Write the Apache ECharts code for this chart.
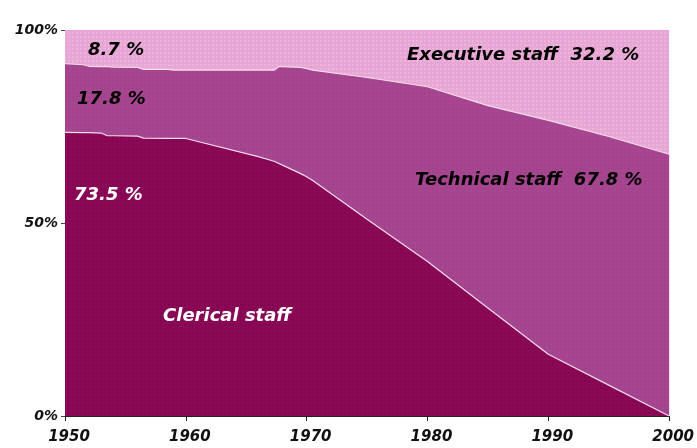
<!DOCTYPE html>
<html>
<head>
<meta charset="utf-8">
<script src="https://cdn.jsdelivr.net/npm/echarts@6/dist/echarts.min.js"></script>
<style>
  html, body { margin: 0; padding: 0; background: #ffffff; }
  #chart { width: 697px; height: 448px; }
</style>
</head>
<body>
<div id="chart"></div>
<script>
// Staff structure by category, share of total staff (%)
const years = [1950, 1951.5, 1952, 1953, 1953.5, 1954, 1956, 1956.5, 1958.5, 1959, 1960,
               1966, 1967.3, 1967.7, 1968, 1969.5, 1970, 1970.5, 1975, 1980, 1985, 1990, 1995, 2000];
const clerical = [73.5, 73.4, 73.4, 73.3, 72.6, 72.6, 72.5, 72.0, 71.9, 71.9, 71.9,
                  67.2, 66.0, 65.4, 65.0, 62.8, 62.0, 61.0, 51.0, 40.0, 28.0, 16.0, 8.0, 0.0];
const technical = [17.8, 17.6, 17.2, 17.2, 17.9, 17.8, 17.8, 17.8, 17.9, 17.7, 17.7,
                   22.4, 23.6, 25.1, 25.5, 27.5, 28.0, 28.6, 36.7, 45.3, 52.4, 60.6, 64.4, 67.8];
const executive = [8.7, 9.0, 9.4, 9.5, 9.5, 9.6, 9.7, 10.2, 10.2, 10.4, 10.4,
                   10.4, 10.4, 9.5, 9.5, 9.7, 10.0, 10.4, 12.3, 14.7, 19.6, 23.4, 27.6, 32.2];
const seriesNames = ['Clerical staff', 'Technical staff', 'Executive staff'];
const yTicks = { 0: '0%', 50: '50%', 100: '100%' };

// Cumulative bands: each layer is filled from 0 up to its running total,
// drawn back to front so the lower categories sit on top.
const cumClerical = clerical.map(v => v);
const cumTechnical = clerical.map((v, i) => +(v + technical[i]).toFixed(2));
const cumExecutive = cumTechnical.map((v, i) => +(v + executive[i]).toFixed(2));

const pairs = vals => years.map((y, i) => [y, vals[i]]);
const pct = v => v.toFixed(1) + ' %';
const last = arr => arr[arr.length - 1];

const labelFont = 'italic bold 18px "DejaVu Sans"';

const chart = echarts.init(document.getElementById('chart'), null, { renderer: 'canvas' });

function band(name, vals, fill, dotColor, edge, z) {
  return {
    name: name,
    type: 'line',
    data: pairs(vals),
    symbol: 'none',
    smooth: false,
    silent: true,
    clip: true,
    lineStyle: { width: edge ? 1.2 : 0, color: '#f3dcec' },
    areaStyle: { color: fill, opacity: 1, origin: 'start' },
    itemStyle: {
      color: fill,
      decal: {
        symbol: 'rect',
        symbolSize: 0.5,
        dashArrayX: [2, 2],
        dashArrayY: [2, 2],
        color: dotColor
      }
    },
    z: z
  };
}

chart.setOption({
  animation: false,
  backgroundColor: '#ffffff',
  grid: { left: 65, right: 26, top: 30, bottom: 32, containLabel: false },
  xAxis: {
    type: 'value',
    min: 1950,
    max: 2000,
    interval: 10,
    axisLine: { show: true, lineStyle: { color: '#222', width: 1 } },
    axisTick: { show: true, length: 5, lineStyle: { color: '#222' } },
    splitLine: { show: false },
    axisLabel: {
      margin: 14,
      color: '#111',
      fontFamily: 'DejaVu Sans',
      fontStyle: 'italic',
      fontWeight: 'bold',
      fontSize: 15,
      padding: [0, 0, 0, 8],
      formatter: v => String(v)
    }
  },
  yAxis: {
    type: 'value',
    min: 0,
    max: 100,
    interval: 50,
    axisLine: { show: true, lineStyle: { color: '#777', width: 1, type: 'dotted' } },
    axisTick: { show: true, length: 4, lineStyle: { color: '#444' } },
    splitLine: { show: false },
    axisLabel: {
      margin: 7,
      color: '#111',
      fontFamily: 'DejaVu Sans',
      fontStyle: 'italic',
      fontWeight: 'bold',
      fontSize: 14,
      padding: [0, 0, 6, 0],
      formatter: v => yTicks[v] || ''
    }
  },
  series: [
    band(seriesNames[2], cumExecutive, '#e7a6d6', 'rgba(255,240,225,0.8)', false, 1),
    band(seriesNames[1], cumTechnical, '#a8458f', 'rgba(90,60,160,0.45)', true, 2),
    band(seriesNames[0], cumClerical, '#8a0856', 'rgba(60,0,40,0.45)', true, 3)
  ],
  graphic: [
    { type: 'text', x: 88, y: 50, z: 10,
      style: { text: pct(executive[0]), font: labelFont, fill: '#000', verticalAlign: 'middle' } },
    { type: 'text', x: 77, y: 99, z: 10,
      style: { text: pct(technical[0]), font: labelFont, fill: '#000', verticalAlign: 'middle' } },
    { type: 'text', x: 74, y: 195, z: 10,
      style: { text: pct(clerical[0]), font: labelFont, fill: '#fff', verticalAlign: 'middle' } },
    { type: 'text', x: 407, y: 55, z: 10,
      style: { text: seriesNames[2] + '  ' + pct(last(executive)), font: labelFont, fill: '#000', verticalAlign: 'middle' } },
    { type: 'text', x: 415, y: 180, z: 10,
      style: { text: seriesNames[1] + '  ' + pct(last(technical)), font: labelFont, fill: '#000', verticalAlign: 'middle' } },
    { type: 'text', x: 163, y: 316, z: 10,
      style: { text: seriesNames[0], font: labelFont, fill: '#fff', verticalAlign: 'middle' } }
  ]
});
</script>
</body>
</html>
